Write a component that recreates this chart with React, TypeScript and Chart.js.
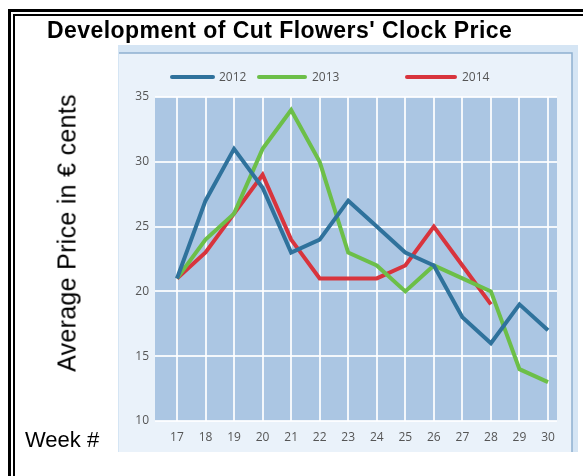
import React, { useEffect, useRef } from "react";
import { Chart, registerables } from "chart.js";

Chart.register(...registerables);

const weeks = [17, 18, 19, 20, 21, 22, 23, 24, 25, 26, 27, 28, 29, 30];
const price2012 = [21, 27, 31, 28, 23, 24, 27, 25, 23, 22, 18, 16, 19, 17];
const price2013 = [21, 24, 26, 31, 34, 30, 23, 22, 20, 22, 21, 20, 14, 13];
const price2014 = [21, 23, 26, 29, 24, 21, 21, 21, 22, 25, 22, 19];
const seriesLabels = ["2012", "2013", "2014"];
const seriesColors = ["#2f729c", "#6cbf48", "#d8343d"];
const yTicks = [10, 15, 20, 25, 30, 35];

const legendPos = [
  { x0: 172, x1: 213, tx: 219 },
  { x0: 259, x1: 305, tx: 312 },
  { x0: 407, x1: 455, tx: 462 },
];

const framePlugin = {
  id: "frame",
  beforeDraw(chart: any) {
    const ctx = chart.ctx;
    const a = chart.chartArea;
    ctx.save();
    // outer light strip of the embedded chart picture
    ctx.fillStyle = "#d5e5f4";
    ctx.fillRect(118, 45, 460, 407);
    ctx.fillStyle = "#eaf2fa";
    ctx.fillRect(119, 53, 453, 399);
    ctx.strokeStyle = "#8fb0cf";
    ctx.lineWidth = 1.5;
    ctx.beginPath();
    ctx.moveTo(119, 53);
    ctx.lineTo(572, 53);
    ctx.lineTo(572, 452);
    ctx.stroke();
    // plot background
    ctx.fillStyle = "#abc6e3";
    ctx.fillRect(a.left, a.top, a.right - a.left, a.bottom - a.top);
    ctx.restore();
  },
  afterDraw(chart: any) {
    const ctx = chart.ctx;
    ctx.save();
    chart.data.datasets.forEach((ds: any, i: number) => {
      const p = legendPos[i];
      const y = 77;
      ctx.strokeStyle = ds.borderColor;
      ctx.lineWidth = 4;
      ctx.lineCap = "round";
      ctx.beginPath();
      ctx.moveTo(p.x0, y);
      ctx.lineTo(p.x1, y);
      ctx.stroke();
      ctx.fillStyle = "#555";
      ctx.font = "12px 'Open Sans'";
      ctx.textBaseline = "middle";
      ctx.fillText(ds.label, p.tx, y + 1);
    });
    ctx.restore();
  },
};

export default function App() {
  const ref = useRef<HTMLCanvasElement | null>(null);

  useEffect(() => {
    if (!ref.current) return;
    const mk = (vals: number[]) => vals.map((v, i) => ({ x: weeks[i], y: v }));
    const chart = new Chart(ref.current, {
      type: "line",
      data: {
        datasets: [price2012, price2013, price2014].map((vals, i) => ({
          label: seriesLabels[i],
          data: mk(vals),
          borderColor: seriesColors[i],
          backgroundColor: seriesColors[i],
          borderWidth: 4,
          pointRadius: 0,
          tension: 0,
          fill: false,
        })),
      },
      options: {
        animation: false,
        responsive: false,
        devicePixelRatio: 1,
        layout: { padding: { left: 0, top: 97, right: 26, bottom: 0 } },
        plugins: {
          legend: { display: false },
          title: { display: false },
          tooltip: { enabled: false },
        },
        scales: {
          x: {
            type: "linear",
            min: 16.23,
            max: 30.315,
            afterFit(scale: any) {
              scale.height = 55;
            },
            afterBuildTicks(scale: any) {
              scale.ticks = weeks.map((w) => ({ value: w }));
            },
            ticks: {
              stepSize: 1,
              includeBounds: false,
              padding: 9,
              color: "#555",
              font: { family: "Open Sans", size: 12 },
            },
            grid: { color: "rgba(255,255,255,0.85)", lineWidth: 2, drawTicks: false },
            border: { display: false },
          },
          y: {
            min: 10,
            max: 35,
            afterFit(scale: any) {
              scale.width = 155;
            },
            afterBuildTicks(scale: any) {
              scale.ticks = yTicks.map((v) => ({ value: v }));
            },
            ticks: {
              stepSize: 5,
              padding: 6,
              color: "#555",
              font: { family: "Open Sans", size: 12 },
            },
            grid: { color: "rgba(255,255,255,0.85)", lineWidth: 2, drawTicks: false },
            border: { display: false },
          },
        },
      },
      plugins: [framePlugin],
    });
    return () => chart.destroy();
  }, []);

  return (
    <div
      style={{
        position: "fixed",
        left: 0,
        top: 0,
        width: 583,
        height: 476,
        background: "#fff",
        overflow: "hidden",
        fontFamily: "'Liberation Sans', Arial, sans-serif",
      }}
    >
      <div style={{ position: "absolute", left: 8, top: 9, width: 600, height: 500, borderLeft: "3px solid #000", borderTop: "3px solid #000" }} />
      <div style={{ position: "absolute", left: 13, top: 14, width: 600, height: 500, borderLeft: "2px solid #000", borderTop: "2px solid #000" }} />
      <canvas ref={ref} width={583} height={476} style={{ position: "absolute", left: 0, top: 0, width: 583, height: 476 }} />
      <div style={{ position: "absolute", left: 47, top: 17, fontWeight: "bold", fontSize: 23, letterSpacing: 0.45, whiteSpace: "nowrap", color: "#000" }}>
        Development of Cut Flowers' Clock Price
      </div>
      <div
        style={{
          position: "absolute",
          left: 67,
          top: 233,
          transform: "translate(-50%, -50%) rotate(-90deg)",
          fontSize: 25,
          letterSpacing: 0.3,
          whiteSpace: "nowrap",
          color: "#000",
        }}
      >
        Average Price in € cents
      </div>
      <div style={{ position: "absolute", left: 25, top: 427, fontSize: 22, whiteSpace: "nowrap", color: "#000" }}>
        Week #
      </div>
    </div>
  );
}
